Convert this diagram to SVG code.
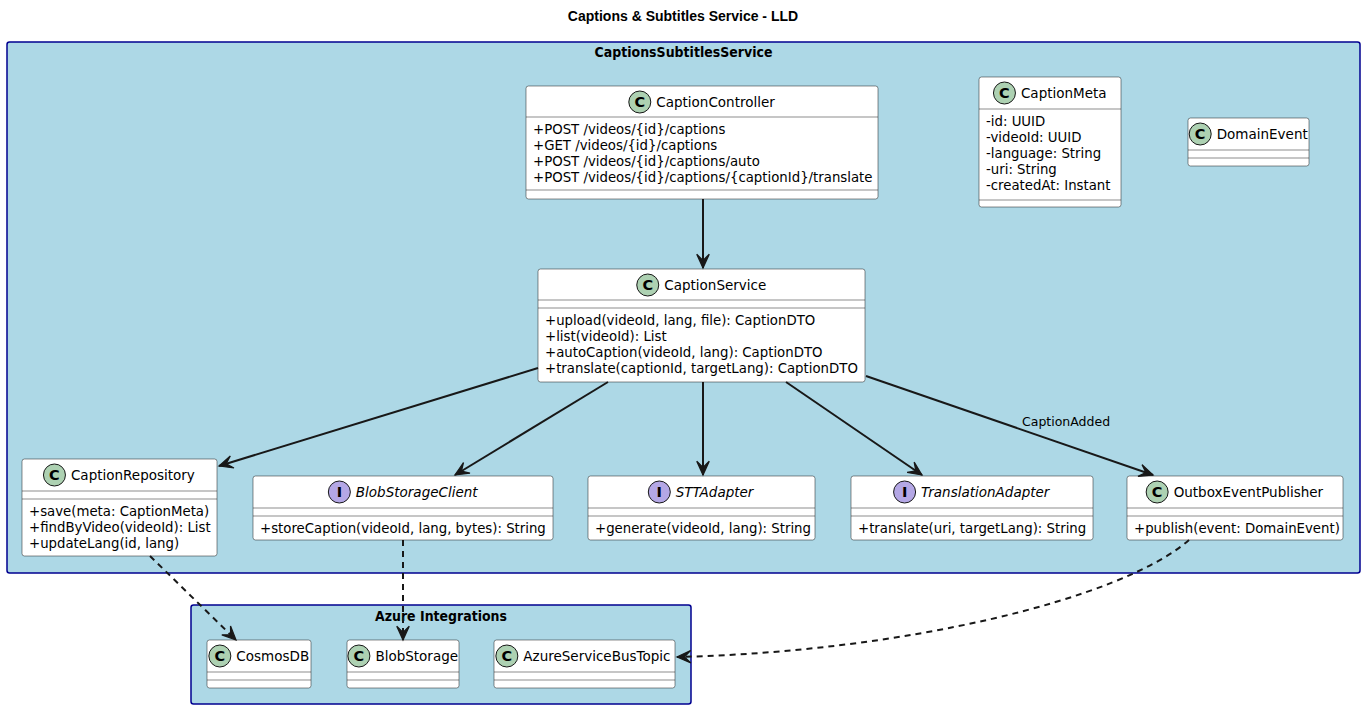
<svg xmlns="http://www.w3.org/2000/svg" width="1365" height="709" viewBox="0 0 1365 709">
<defs>
<style>
.pkg{fill:#ADD8E6;stroke:#000090;stroke-width:1.5}
.pt{font-family:'DejaVu Sans',sans-serif;font-weight:bold;font-size:14px;text-anchor:middle;fill:#000}
.box{fill:#FFFFFF;stroke:#181818;stroke-width:0.5}
.sep{stroke:#181818;stroke-width:0.5}
.cc{fill:#ADD1B2;stroke:#181818;stroke-width:1}
.ci{fill:#B4A7E5;stroke:#181818;stroke-width:1}
.cl{font-family:'DejaVu Sans',sans-serif;font-weight:bold;font-size:14.5px;text-anchor:middle;fill:#000}
.ttl{font-family:'DejaVu Sans',sans-serif;font-size:13.5px;fill:#000}
.itl{font-style:italic}
.mem{font-family:'DejaVu Sans',sans-serif;font-size:13.3px;fill:#000}
.ln{fill:none;stroke:#181818;stroke-width:2}
.dash{stroke-dasharray:6,5}
.lbl{font-family:'DejaVu Sans',sans-serif;font-size:12.5px;fill:#000}
</style>
<marker id="ah" markerUnits="userSpaceOnUse" markerWidth="20" markerHeight="20" viewBox="-14 -8 16 16" refX="0" refY="0" orient="auto">
<path d="M0,0 L-11,-5 L-6,0 L-11,5 Z" fill="#181818" stroke="#181818" stroke-width="1" stroke-linejoin="miter" stroke-dasharray="none"/>
</marker>
</defs>
<rect width="1365" height="709" fill="#FFFFFF"/>
<text x="683" y="21" font-family="'Liberation Sans',Arial,sans-serif" font-weight="bold" font-size="14" text-anchor="middle">Captions &amp; Subtitles Service - LLD</text>

<g id="pkg-CaptionsSubtitlesService">
<rect class="pkg" x="7" y="42" width="1353" height="531" rx="2.5"/>
<text class="pt" x="683.5" y="57" textLength="178" lengthAdjust="spacingAndGlyphs">CaptionsSubtitlesService</text>
</g>
<g id="pkg-AzureIntegrations">
<rect class="pkg" x="191" y="605" width="500" height="99" rx="2.5"/>
<text class="pt" x="441" y="621" textLength="132" lengthAdjust="spacingAndGlyphs">Azure Integrations</text>
</g>

<g id="CaptionController">
<rect class="box" x="526" y="86" width="352" height="113" rx="2.5"/>
<line class="sep" x1="526" y1="117" x2="878" y2="117"/>
<line class="sep" x1="526" y1="190" x2="878" y2="190"/>
<circle class="cc" cx="639.8" cy="102" r="11"/>
<text class="cl" x="639.8" y="107.2">C</text>
<text class="ttl" x="656.3" y="107">CaptionController</text>
<text class="mem" x="533" y="134">+POST /videos/{id}/captions</text>
<text class="mem" x="533" y="150">+GET /videos/{id}/captions</text>
<text class="mem" x="533" y="166">+POST /videos/{id}/captions/auto</text>
<text class="mem" x="533" y="182">+POST /videos/{id}/captions/{captionId}/translate</text>
</g>

<g id="CaptionService">
<rect class="box" x="538" y="269" width="327" height="113" rx="2.5"/>
<line class="sep" x1="538" y1="300" x2="865" y2="300"/>
<line class="sep" x1="538" y1="308" x2="865" y2="308"/>
<circle class="cc" cx="647.75" cy="285" r="11"/>
<text class="cl" x="647.75" y="290.2">C</text>
<text class="ttl" x="664.25" y="290">CaptionService</text>
<text class="mem" x="545" y="325">+upload(videoId, lang, file): CaptionDTO</text>
<text class="mem" x="545" y="341">+list(videoId): List</text>
<text class="mem" x="545" y="357">+autoCaption(videoId, lang): CaptionDTO</text>
<text class="mem" x="545" y="373">+translate(captionId, targetLang): CaptionDTO</text>
</g>

<g id="CaptionMeta">
<rect class="box" x="979" y="77" width="142" height="130" rx="2.5"/>
<line class="sep" x1="979" y1="109" x2="1121" y2="109"/>
<line class="sep" x1="979" y1="200" x2="1121" y2="200"/>
<circle class="cc" cx="1004.45" cy="93" r="11"/>
<text class="cl" x="1004.45" y="98.2">C</text>
<text class="ttl" x="1020.95" y="98">CaptionMeta</text>
<text class="mem" x="986" y="126">-id: UUID</text>
<text class="mem" x="986" y="142">-videoId: UUID</text>
<text class="mem" x="986" y="158">-language: String</text>
<text class="mem" x="986" y="174">-uri: String</text>
<text class="mem" x="986" y="190">-createdAt: Instant</text>
</g>

<g id="DomainEvent">
<rect class="box" x="1188" y="118" width="121" height="48" rx="2.5"/>
<line class="sep" x1="1188" y1="150" x2="1309" y2="150"/>
<line class="sep" x1="1188" y1="158" x2="1309" y2="158"/>
<circle class="cc" cx="1200.2" cy="134" r="11"/>
<text class="cl" x="1200.2" y="139.2">C</text>
<text class="ttl" x="1216.7" y="139">DomainEvent</text>
</g>

<g id="CaptionRepository">
<rect class="box" x="22" y="459" width="195" height="97" rx="2.5"/>
<line class="sep" x1="22" y1="491" x2="217" y2="491"/>
<line class="sep" x1="22" y1="499" x2="217" y2="499"/>
<circle class="cc" cx="54.45" cy="475" r="11"/>
<text class="cl" x="54.45" y="480.2">C</text>
<text class="ttl" x="70.95" y="480">CaptionRepository</text>
<text class="mem" x="29" y="516">+save(meta: CaptionMeta)</text>
<text class="mem" x="29" y="532">+findByVideo(videoId): List</text>
<text class="mem" x="29" y="548">+updateLang(id, lang)</text>
</g>

<g id="BlobStorageClient">
<rect class="box" x="253" y="476" width="300" height="64" rx="2.5"/>
<line class="sep" x1="253" y1="508" x2="553" y2="508"/>
<line class="sep" x1="253" y1="516" x2="553" y2="516"/>
<circle class="ci" cx="339.35" cy="492" r="11"/>
<text class="cl" x="339.35" y="497.2">I</text>
<text class="ttl itl" x="355.85" y="497">BlobStorageClient</text>
<text class="mem" x="260" y="533">+storeCaption(videoId, lang, bytes): String</text>
</g>

<g id="STTAdapter">
<rect class="box" x="588" y="476" width="227" height="64" rx="2.5"/>
<line class="sep" x1="588" y1="508" x2="815" y2="508"/>
<line class="sep" x1="588" y1="516" x2="815" y2="516"/>
<circle class="ci" cx="659.3" cy="492" r="11"/>
<text class="cl" x="659.3" y="497.2">I</text>
<text class="ttl itl" x="675.8" y="497">STTAdapter</text>
<text class="mem" x="595" y="533">+generate(videoId, lang): String</text>
</g>

<g id="TranslationAdapter">
<rect class="box" x="851" y="476" width="242" height="64" rx="2.5"/>
<line class="sep" x1="851" y1="508" x2="1093" y2="508"/>
<line class="sep" x1="851" y1="516" x2="1093" y2="516"/>
<circle class="ci" cx="904.6" cy="492" r="11"/>
<text class="cl" x="904.6" y="497.2">I</text>
<text class="ttl itl" x="921.1" y="497">TranslationAdapter</text>
<text class="mem" x="858" y="533">+translate(uri, targetLang): String</text>
</g>

<g id="OutboxEventPublisher">
<rect class="box" x="1127" y="476" width="216" height="64" rx="2.5"/>
<line class="sep" x1="1127" y1="508" x2="1343" y2="508"/>
<line class="sep" x1="1127" y1="516" x2="1343" y2="516"/>
<circle class="cc" cx="1157.15" cy="492" r="11"/>
<text class="cl" x="1157.15" y="497.2">C</text>
<text class="ttl" x="1173.65" y="497">OutboxEventPublisher</text>
<text class="mem" x="1134" y="533">+publish(event: DomainEvent)</text>
</g>

<g id="CosmosDB">
<rect class="box" x="207" y="640" width="104" height="48" rx="2.5"/>
<line class="sep" x1="207" y1="672" x2="311" y2="672"/>
<line class="sep" x1="207" y1="680" x2="311" y2="680"/>
<circle class="cc" cx="219.85" cy="656" r="11"/>
<text class="cl" x="219.85" y="661.2">C</text>
<text class="ttl" x="236.35" y="661">CosmosDB</text>
</g>

<g id="BlobStorage">
<rect class="box" x="347" y="640" width="112" height="48" rx="2.5"/>
<line class="sep" x1="347" y1="672" x2="459" y2="672"/>
<line class="sep" x1="347" y1="680" x2="459" y2="680"/>
<circle class="cc" cx="358.9" cy="656" r="11"/>
<text class="cl" x="358.9" y="661.2">C</text>
<text class="ttl" x="375.4" y="661">BlobStorage</text>
</g>

<g id="AzureServiceBusTopic">
<rect class="box" x="494" y="640" width="181" height="48" rx="2.5"/>
<line class="sep" x1="494" y1="672" x2="675" y2="672"/>
<line class="sep" x1="494" y1="680" x2="675" y2="680"/>
<circle class="cc" cx="506.85" cy="656" r="11"/>
<text class="cl" x="506.85" y="661.2">C</text>
<text class="ttl" x="523.35" y="661">AzureServiceBusTopic</text>
</g>

<g id="connectors">
<path class="ln" d="M703,199 L703,268" marker-end="url(#ah)"/>
<path class="ln" d="M538,368 L219,466" marker-end="url(#ah)"/>
<path class="ln" d="M608,382 L455,475" marker-end="url(#ah)"/>
<path class="ln" d="M703,382 L703,475" marker-end="url(#ah)"/>
<path class="ln" d="M786,382 L922,475" marker-end="url(#ah)"/>
<path class="ln" d="M866,376 L1153,475" marker-end="url(#ah)"/>
<text class="lbl" x="1022" y="426">CaptionAdded</text>
<path class="ln dash" d="M150,556 L236,640" marker-end="url(#ah)"/>
<path class="ln dash" d="M403,540 L403,640" marker-end="url(#ah)"/>
<path class="ln dash" d="M1189,540 C1120,600 900,652 677,657" marker-end="url(#ah)"/>
</g>
</svg>
